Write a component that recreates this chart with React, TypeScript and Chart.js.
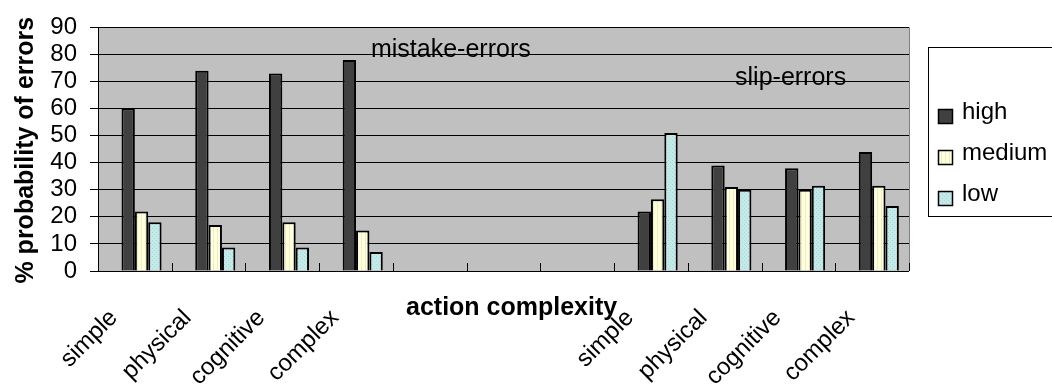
import { useEffect, useRef } from 'react';
import { Chart, registerables } from 'chart.js';

Chart.register(...registerables);

// Action complexity categories; the three blank slots separate the two error groups.
const categories = ['simple', 'physical', 'cognitive', 'complex', '', '', '', 'simple', 'physical', 'cognitive', 'complex'];

// Series (the first one is an unnamed, empty placeholder series)
const seriesNames = ['', 'high', 'medium', 'low'];
const blankValues: (number | null)[] = [null, null, null, null, null, null, null, null, null, null, null];
const highValues: (number | null)[] = [60, 74, 73, 78, null, null, null, 22, 39, 38, 44];
const mediumValues: (number | null)[] = [22, 17, 18, 15, null, null, null, 26.5, 31, 30, 31.5];
const lowValues: (number | null)[] = [18, 8.7, 8.7, 7, null, null, null, 51, 30, 31.5, 24];

const groupNotes = ['mistake-errors', 'slip-errors'];
const yAxisTitle = '% probability of errors';
const xAxisTitle = 'action complexity';

const FONT = '"Liberation Sans", Arial, Helvetica, sans-serif';

function makePattern(base: string, mark: string, kind: 'stripes' | 'dots') {
  const c = document.createElement('canvas');
  c.width = 4;
  c.height = 4;
  const g = c.getContext('2d')!;
  g.fillStyle = base;
  g.fillRect(0, 0, 4, 4);
  g.fillStyle = mark;
  if (kind === 'stripes') {
    g.fillRect(1, 0, 1, 4);
  } else {
    g.fillRect(0, 0, 1, 1);
    g.fillRect(2, 2, 1, 1);
  }
  return g.createPattern(c, 'repeat') as CanvasPattern;
}

export default function App() {
  const canvasRef = useRef<HTMLCanvasElement | null>(null);

  useEffect(() => {
    const canvas = canvasRef.current;
    if (!canvas) return;

    const highFill = '#404040';
    const mediumFill = makePattern('#ffffe0', '#eeeec4', 'stripes');
    const lowFill = makePattern('#c4e9e9', '#aed6d6', 'dots');
    const fills: (string | CanvasPattern)[] = ['rgba(0,0,0,0)', highFill, mediumFill, lowFill];
    const seriesData = [blankValues, highValues, mediumValues, lowValues];

    const decorations = {
      id: 'decorations',
      beforeDraw(chart: Chart) {
        const { ctx, chartArea: a } = chart;
        ctx.save();
        ctx.fillStyle = '#c0c0c0';
        ctx.fillRect(a.left, a.top, a.right - a.left, a.bottom - a.top);
        ctx.restore();
      },
      afterDraw(chart: Chart) {
        const { ctx, chartArea: a } = chart;
        const w = a.right - a.left;
        const catW = w / categories.length;
        const yScale = chart.scales.y;
        ctx.save();

        // plot-area right edge
        ctx.strokeStyle = '#808080';
        ctx.lineWidth = 1;
        ctx.beginPath();
        ctx.moveTo(Math.round(a.right) + 0.5, a.top);
        ctx.lineTo(Math.round(a.right) + 0.5, a.bottom);
        ctx.stroke();

        // inward tick marks between categories
        ctx.strokeStyle = '#000';
        ctx.beginPath();
        for (let i = 1; i <= categories.length; i++) {
          const x = Math.round(a.left + i * catW) + 0.5;
          ctx.moveTo(x, a.bottom);
          ctx.lineTo(x, a.bottom - 8);
        }
        ctx.stroke();

        // group notes
        ctx.fillStyle = '#000';
        ctx.font = `25px ${FONT}`;
        ctx.textAlign = 'left';
        ctx.textBaseline = 'alphabetic';
        ctx.fillText(groupNotes[0], a.left + w * 0.3366, yScale.getPixelForValue(79.2));
        ctx.fillText(groupNotes[1], a.left + w * 0.7855, yScale.getPixelForValue(68.8));

        // axis titles
        ctx.font = `bold 25px ${FONT}`;
        ctx.textAlign = 'center';
        ctx.fillText(xAxisTitle, a.left + w * 0.510, a.bottom + 44);
        ctx.save();
        ctx.translate(33, (a.top + a.bottom) / 2 + 1);
        ctx.rotate(-Math.PI / 2);
        ctx.fillText(yAxisTitle, 0, 0);
        ctx.restore();

        // legend box
        const lx = a.right + 19;
        const ly = 47;
        ctx.fillStyle = '#fff';
        ctx.fillRect(lx, ly, 200, 169);
        ctx.strokeStyle = '#000';
        ctx.lineWidth = 1;
        ctx.strokeRect(lx + 0.5, ly + 0.5, 200, 169);
        ctx.font = `24px ${FONT}`;
        ctx.textAlign = 'left';
        for (let i = 1; i < seriesNames.length; i++) {
          const base = ly + 72 + (i - 1) * 41;
          ctx.fillStyle = fills[i] as any;
          ctx.fillRect(lx + 10, base - 10, 14, 14);
          ctx.strokeStyle = '#000';
          ctx.lineWidth = 1.5;
          ctx.strokeRect(lx + 10.5, base - 9.5, 14, 14);
          ctx.fillStyle = '#000';
          ctx.fillText(seriesNames[i], lx + 34, base);
        }
        ctx.restore();
      },
    };

    const chart = new Chart(canvas, {
      type: 'bar',
      data: {
        labels: categories,
        datasets: seriesData.map((values, i) => ({
          label: seriesNames[i],
          data: values,
          backgroundColor: fills[i] as any,
          borderColor: i === 0 ? 'rgba(0,0,0,0)' : '#000',
          borderWidth: 2,
          categoryPercentage: 0.725,
          barPercentage: 1,
        })),
      },
      options: {
        responsive: true,
        maintainAspectRatio: false,
        animation: false,
        layout: {
          autoPadding: false,
          padding: { left: 0, right: 143, top: 20, bottom: 0 },
        },
        plugins: {
          legend: { display: false },
          tooltip: { enabled: false },
          title: { display: false },
        },
        scales: {
          x: {
            grid: { display: false, drawTicks: false },
            border: { display: false },
            ticks: {
              autoSkip: false,
              minRotation: 45,
              maxRotation: 45,
              labelOffset: -21,
              padding: 33,
              color: '#000',
              font: { family: FONT, size: 24 },
            },
            afterFit(scale: any) {
              scale.height = 117;
            },
          },
          y: {
            min: 0,
            max: 90,
            grid: { color: '#000', lineWidth: 1, drawTicks: true, tickLength: 8 },
            border: { display: true, color: '#000', width: 1 },
            ticks: {
              stepSize: 10,
              autoSkip: false,
              padding: 13,
              color: '#000',
              font: { family: FONT, size: 24 },
            },
            afterFit(scale: any) {
              scale.width = 98;
            },
          },
        },
      },
      plugins: [decorations],
    });

    return () => chart.destroy();
  }, []);

  return (
    <div style={{ position: 'fixed', left: 0, top: 0, width: 1052, height: 388, background: '#fff' }}>
      <canvas ref={canvasRef} />
    </div>
  );
}
